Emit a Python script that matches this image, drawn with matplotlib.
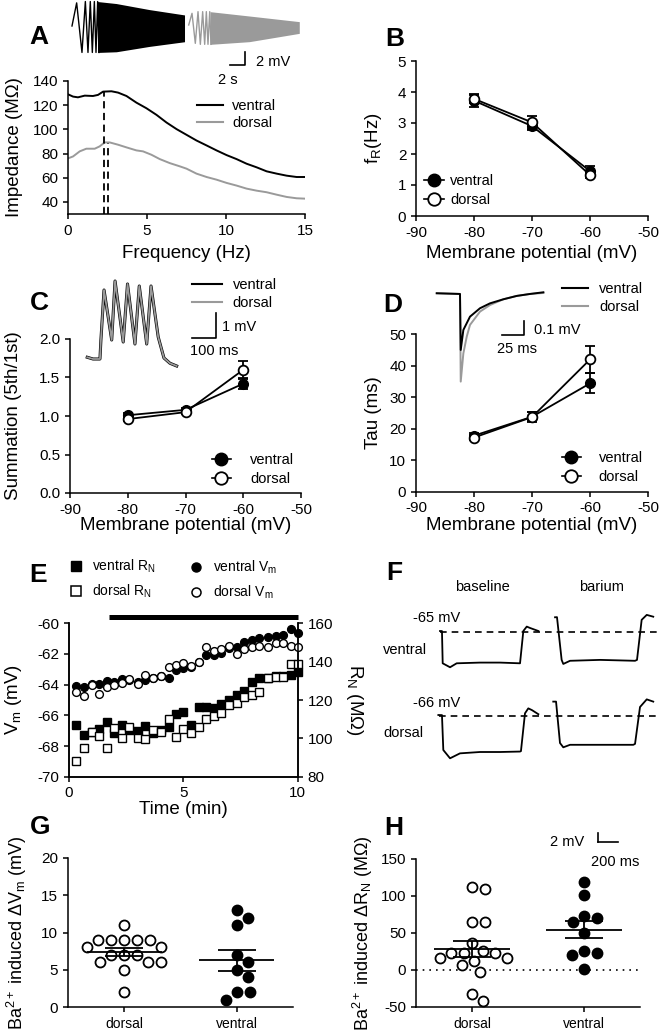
import numpy as np
import matplotlib
matplotlib.use("Agg")
import matplotlib.pyplot as plt
from matplotlib.lines import Line2D

W, H = 659, 1032
GRAY = "#9a9a9a"

# ---------------- data ----------------
# A: impedance profiles
freq_v = [0, 0.32, 0.63, 1.06, 1.58, 1.9, 2.22, 2.75, 3.17, 3.7, 4.33, 4.96, 5.6, 6.23,
          6.87, 7.5, 8.13, 8.77, 9.4, 10.04, 10.67, 11.3, 11.94, 12.57, 13.2, 13.84, 14.47, 15.0]
imp_v = [129.0, 127.1, 126.5, 127.9, 127.6, 128.5, 131.2, 131.5, 130.4, 127.6, 122.1, 117.5,
         112.0, 105.7, 100.2, 95.5, 90.8, 86.7, 82.6, 78.7, 75.4, 71.6, 68.6, 65.3, 63.4,
         61.7, 60.6, 60.6]
freq_d = [0, 0.32, 0.74, 1.16, 1.69, 2.0, 2.32, 2.64, 3.17, 3.7, 4.33, 4.75, 5.28, 5.81,
          6.44, 7.08, 7.5, 8.13, 8.77, 9.4, 10.04, 10.67, 11.3, 11.94, 12.57, 13.2, 13.84,
          14.47, 15.0]
imp_d = [76.0, 77.6, 81.8, 84.0, 84.0, 85.9, 89.2, 89.2, 87.3, 85.1, 82.6, 81.8, 79.0, 75.4,
         72.1, 69.4, 67.5, 63.4, 60.6, 58.4, 55.7, 53.5, 51.0, 49.3, 48.0, 46.0, 44.1, 43.0,
         42.7]
fr_example = [2.25, 2.5]          # resonance frequency, ventral / dorsal
zpeak_example = [130.5, 88.5]

# A inset: chirp responses (s, mV)
chirp_v_t = [0, 0.62, 1.33, 1.78, 2.13, 2.44, 2.71, 2.98, 3.2, 3.42, 3.6]
chirp_v_mv = [0.15, 3.6, -3.8, 3.8, -3.8, 3.8, -3.8, 3.8, -3.8, 3.8, -3.8]
env_v_t = [3.4, 5.9, 10.3, 15.0]
env_v_top = [3.8, 3.5, 2.6, 1.8]
env_v_bot = [-3.8, -3.7, -2.9, -2.2]
chirp_d_t = [15.56, 16.0, 16.44, 16.8, 17.11, 17.42, 17.69, 17.91, 18.13, 18.36, 18.53]
chirp_d_mv = [0.3, 2.04, -2.44, 2.29, -2.59, 2.29, -2.59, 2.29, -2.59, 2.29, -2.59]
env_d_t = [18.4, 23.64, 30.3]
env_d_top = [2.29, 1.64, 0.8]
env_d_bot = [-2.59, -2.19, -0.95]

# B, C, D: holding potentials
vhold = [-80, -70, -60]
fr_v = [3.72, 2.9, 1.45]
fr_v_err = [0.2, 0.13, 0.15]
fr_d = [3.78, 3.02, 1.32]
fr_d_err = [0.12, 0.2, 0.08]
sum_v = [1.01, 1.08, 1.42]
sum_v_err = [0.03, 0.03, 0.07]
sum_d = [0.96, 1.05, 1.60]
sum_d_err = [0.03, 0.03, 0.12]
tau_v = [17.8, 23.8, 34.4]
tau_v_err = [0.8, 1.5, 3.2]
tau_d = [17.2, 23.7, 42.0]
tau_d_err = [0.8, 1.7, 4.3]

# C inset: EPSP train (ms, mV)
epsp_t = [1, 25, 54, 58, 71, 103, 117, 151, 169, 200, 218, 249, 267, 297, 321, 346, 374]
epsp_mv = [0.03, -0.04, -0.04, 0.72, 2.72, 0.72, 3.08, 0.64, 2.96, 0.56, 2.88, 0.56, 2.88,
           0.84, 0.0, -0.21, -0.32]

# D inset: voltage response (ms, mV)
vr_v_t = [0, 25.6, 26.4, 29.3, 36.6, 47.6, 58.6, 73.3, 88, 102.6, 117.3]
vr_v_mv = [0.005, 0, -0.4, -0.257, -0.162, -0.102, -0.067, -0.038, -0.014, 0, 0.012]
vr_d_t = [0, 25.6, 26.4, 29.3, 33.0, 36.6, 47.6, 58.6, 73.3, 88, 102.6, 117.3]
vr_d_mv = [0.005, 0, -0.626, -0.424, -0.305, -0.221, -0.126, -0.079, -0.038, -0.014, 0, 0.007]

# E: time course of barium wash-in
time_min = [0.31, 0.67, 1.01, 1.33, 1.65, 1.98, 2.32, 2.64, 3.0, 3.34, 3.69, 4.02, 4.36,
            4.68, 5.0, 5.34, 5.67, 5.99, 6.33, 6.65, 7.01, 7.35, 7.67, 8.0, 8.32, 8.69,
            9.05, 9.37, 9.71, 10.03]
vm_ventral = [-64.07, -64.13, -63.95, -63.96, -63.74, -63.85, -63.63, -63.70, -63.80, -63.70,
              -63.54, -63.43, -63.54, -63.04, -62.93, -62.83, -62.50, -62.07, -62.07, -61.96,
              -61.63, -61.52, -61.24, -61.09, -60.93, -60.87, -60.80, -60.76, -60.37, -60.65]
vm_dorsal = [-64.50, -64.74, -64.02, -64.59, -64.17, -64.02, -63.91, -63.65, -63.96, -63.37,
             -63.54, -63.43, -62.83, -62.72, -62.61, -62.78, -62.50, -61.57, -61.78, -61.70,
             -61.46, -61.98, -61.65, -61.57, -61.48, -61.57, -61.30, -61.30, -61.46, -61.57]
rn_ventral = [107.0, 101.7, 103.5, 104.7, 108.7, 102.6, 107.0, 104.3, 103.8, 106.4, 102.6,
              104.3, 106.1, 112.5, 113.6, 107.0, 116.5, 116.5, 115.7, 117.7, 120.0, 122.6,
              124.7, 129.6, 131.7, 131.3, 132.5, 132.5, 133.0, 134.8]
rn_dorsal = [88.2, 94.8, 103.1, 101.4, 94.8, 105.2, 100.3, 106.1, 100.0, 99.5, 104.3, 103.5,
             109.9, 100.9, 104.9, 102.6, 106.1, 110.1, 111.8, 113.0, 117.4, 118.3, 121.7,
             122.6, 124.3, 131.3, 132.2, 132.2, 138.8, 138.8]
barium_on = [1.75, 10.0]

# F: example step responses (ms, mV)
fv_base_t = [0, 19, 26, 97, 161, 386, 580, 773, 805, 838, 869, 950]
fv_base_mv = [-64.78, -64.8, -71.96, -72.84, -71.96, -71.8, -71.8, -71.96, -64.78, -63.8,
              -64.1, -64.78]
fv_ba_t = [1111, 1130, 1175, 1191, 1256, 1546, 1884, 1903, 1948, 1997, 2060]
fv_ba_mv = [-61.73, -61.7, -71.2, -72.1, -71.4, -71.2, -71.4, -71.2, -62.3, -61.2, -61.6]
fd_base_t = [-16, 19, 32, 97, 193, 386, 580, 773, 782, 821, 853, 889, 950]
fd_base_mv = [-65.78, -65.8, -73.56, -75.4, -74.3, -74.0, -74.0, -73.9, -73.8, -65.4, -64.3,
              -64.7, -65.6]
fd_ba_t = [1094, 1121, 1159, 1191, 1256, 1546, 1867, 1884, 1932, 1997, 2060]
fd_ba_mv = [-62.8, -62.8, -72.0, -72.96, -72.4, -72.4, -72.4, -72.2, -64.0, -62.3, -62.8]
rest_v, rest_d = -65, -66

# G, H: barium-induced changes
dvm_dorsal = [11, 9, 9, 9, 9, 9, 8, 8, 7, 7, 7, 6, 6, 6, 5, 2]
dvm_ventral = [13, 12, 11, 7, 6, 5, 4, 2, 2, 1]
drn_dorsal = [111.3, 108.6, 64.2, 64.2, 35.8, 25.8, 23.3, 22.4, 22.4, 15.6, 15.6, 12.5, 6.6,
              -2.4, -32.5, -41.9]
drn_ventral = [119.0, 101.0, 73.1, 69.6, 64.2, 49.3, 25.5, 22.4, 20.1, 0.8]
groups = ["dorsal", "ventral"]

# ---------------- style ----------------
plt.rcParams["font.family"] = ["Liberation Sans", "DejaVu Sans"]
plt.rcParams["mathtext.fontset"] = "custom"
plt.rcParams["mathtext.rm"] = "Liberation Sans"
plt.rcParams["mathtext.it"] = "Liberation Sans:italic"
plt.rcParams["mathtext.bf"] = "Liberation Sans:bold"
plt.rcParams["axes.unicode_minus"] = False
plt.rcParams["axes.linewidth"] = 1.1
for a in ("xtick", "ytick"):
    plt.rcParams[a + ".major.width"] = 1.1
    plt.rcParams[a + ".major.size"] = 3.5
    plt.rcParams[a + ".direction"] = "out"
    plt.rcParams[a + ".labelsize"] = 11
LAB = 13.5
LEG = 10.5

fig = plt.figure(figsize=(W / 100, H / 100), dpi=100)


def box(x0, y0, x1, y1):
    return [x0 / W, 1 - y1 / H, (x1 - x0) / W, (y1 - y0) / H]


def fpt(x, y):
    return x / W, 1 - y / H


def ftext(x, y, s, **kw):
    kw.setdefault("fontsize", LEG)
    kw.setdefault("va", "center")
    fig.text(*fpt(x, y), s, **kw)


def panel(ax):
    ax.spines["top"].set_visible(False)
    ax.spines["right"].set_visible(False)


def labels(ax, ext, xl, xl_y, yl, yl_x):
    x0, y0, x1, y1 = ext
    ax.set_xlabel(xl, fontsize=LAB, va="center")
    ax.xaxis.set_label_coords(0.5, (y1 - xl_y) / (y1 - y0))
    ax.set_ylabel(yl, fontsize=LAB, va="center", ha="center")
    ax.yaxis.set_label_coords((yl_x - x0) / (x1 - x0), 0.5)


def trace_ax(ext, xlim, ylim):
    ax = fig.add_axes(box(*ext))
    ax.set_xlim(*xlim)
    ax.set_ylim(*ylim)
    ax.axis("off")
    return ax


def legend_at(ax, handles, labs, x, y, **kw):
    opts = dict(loc="center left", bbox_to_anchor=fpt(x, y), bbox_transform=fig.transFigure,
                frameon=False, fontsize=LEG, borderpad=0, borderaxespad=0)
    opts.update(kw)
    return ax.legend(handles, labs, **opts)


def swarm_x(values, ppu_x, ppu_y, d_px):
    placed, offs = [], []
    cands = [0.0] + [s * k * 0.5 for k in range(1, 300) for s in (1, -1)]
    for v in values:
        y = v * ppu_y
        for c in cands:
            if all(np.hypot(c - px, y - py) >= d_px for px, py in placed):
                break
        placed.append((c, y))
        offs.append(c / ppu_x)
    return np.array(offs)


h_line_v = Line2D([], [], color="k", lw=1.5)
h_line_d = Line2D([], [], color=GRAY, lw=1.5)
h_dot_v = Line2D([], [], color="k", lw=1.2, marker="o", ms=9, mfc="k", mec="k")
h_dot_d = Line2D([], [], color="k", lw=1.2, marker="o", ms=9, mfc="white", mec="k", mew=1.3)

# ---------------- A ----------------
extA = (68, 81, 305, 214)
axA = fig.add_axes(box(*extA))
panel(axA)
axA.plot(freq_v, imp_v, color="k", lw=1.4)
axA.plot(freq_d, imp_d, color=GRAY, lw=1.4)
axA.vlines(fr_example, 30, zpeak_example, colors="k", lw=1.3, linestyles=(0, (4, 2.5)))
axA.set_xlim(0, 15)
axA.set_ylim(30, 140)
axA.set_xticks([0, 5, 10, 15])
axA.set_yticks(range(40, 141, 20))
labels(axA, extA, "Frequency (Hz)", 253, "Impedance (M\u03a9)", 15)
legend_at(axA, [h_line_v, h_line_d], ["ventral", "dorsal"], 197, 114.5,
          handlelength=1.8, handletextpad=0.6, labelspacing=0.25)

axCh = trace_ax((60, 0, 310, 70), (-1.6, 31.73), (-6.42, 4.03))
axCh.plot(chirp_v_t, chirp_v_mv, color="k", lw=1.0)
axCh.fill_between(env_v_t, env_v_top, env_v_bot, color="k", lw=0)
axCh.plot(chirp_d_t, chirp_d_mv, color=GRAY, lw=1.0)
axCh.fill_between(env_d_t, env_d_top, env_d_bot, color=GRAY, lw=0)
axCh.plot([21.07, 23.07, 23.07], [-5.67, -5.67, -3.67], color="k", lw=1.2)
ftext(256, 61.5, "2 mV")
ftext(228, 80, "2 s", ha="center")

# ---------------- B ----------------
extB = (416, 61, 648, 216)
axB = fig.add_axes(box(*extB))
panel(axB)
eb = dict(fmt="-o", color="k", mec="k", ms=7, lw=1.3, capsize=3.5, elinewidth=1.3,
          capthick=1.3, clip_on=False)
axB.errorbar(vhold, fr_v, yerr=fr_v_err, mfc="k", zorder=2, **eb)
axB.errorbar(vhold, fr_d, yerr=fr_d_err, mfc="white", mew=1.3, zorder=3, **eb)
axB.set_xlim(-90, -50)
axB.set_ylim(0, 5)
axB.set_xticks(range(-90, -49, 10))
labels(axB, extB, "Membrane potential (mV)", 253, r"f$_\mathrm{R}$(Hz)", 373)
legend_at(axB, [h_dot_v, h_dot_d], ["ventral", "dorsal"], 424, 190.5,
          handlelength=1.4, handletextpad=0.4, labelspacing=0.35)

# ---------------- C ----------------
extC = (70, 339, 301, 493)
axC = fig.add_axes(box(*extC))
panel(axC)
axC.errorbar(vhold, sum_v, yerr=sum_v_err, mfc="k", zorder=2, **eb)
axC.errorbar(vhold, sum_d, yerr=sum_d_err, mfc="white", mew=1.3, zorder=3, **eb)
axC.set_xlim(-90, -50)
axC.set_ylim(0, 2.0)
axC.set_xticks(range(-90, -49, 10))
axC.set_yticks(np.arange(0, 2.01, 0.5))
axC.yaxis.set_major_formatter("{x:.1f}")
labels(axC, extC, "Membrane potential (mV)", 525, "Summation (5th/1st)", 14)
legend_at(axC, [h_dot_v, h_dot_d], ["ventral", "dorsal"], 212, 469.5,
          handlelength=1.3, handletextpad=1.3, labelspacing=0.35)

axCi = trace_ax((80, 272, 245, 372), (-29.2, 659), (-0.56, 3.44))
axCi.plot(epsp_t, epsp_mv, color="k", lw=2.2)
axCi.plot(epsp_t, epsp_mv, color=GRAY, lw=1.3)
axCi.plot([438, 538, 538], [0.8, 0.8, 1.8], color="k", lw=1.2)
ftext(222, 327, "1 mV")
ftext(190, 351, "100 ms")
axCi.legend([h_line_v, h_line_d], ["ventral", "dorsal"], loc="center left",
            bbox_to_anchor=fpt(192, 294), bbox_transform=fig.transFigure, frameon=False,
            fontsize=LEG, borderpad=0, borderaxespad=0, handlelength=2.05,
            handletextpad=0.75, labelspacing=0.25)

# ---------------- D ----------------
extD = (416, 334.3, 648, 491.7)
axD = fig.add_axes(box(*extD))
panel(axD)
axD.errorbar(vhold, tau_v, yerr=tau_v_err, mfc="k", zorder=2, **eb)
axD.errorbar(vhold, tau_d, yerr=tau_d_err, mfc="white", mew=1.3, zorder=3, **eb)
axD.set_xlim(-90, -50)
axD.set_ylim(0, 50)
axD.set_xticks(range(-90, -49, 10))
labels(axD, extD, "Membrane potential (mV)", 525, "Tau (ms)", 373)
legend_at(axD, [h_dot_v, h_dot_d], ["ventral", "dorsal"], 562, 467.5,
          handlelength=1.3, handletextpad=1.2, labelspacing=0.35)

axDi = trace_ax((430, 285, 560, 390), (-7.4, 135.6), (-0.686, 0.064))
axDi.plot(vr_d_t, vr_d_mv, color=GRAY, lw=1.4)
axDi.plot(vr_v_t, vr_v_mv, color="k", lw=1.4)
axDi.plot([71.5, 96.4, 96.4], [-0.293, -0.293, -0.193], color="k", lw=1.2)
ftext(534, 330, "0.1 mV")
ftext(497, 349, "25 ms")
axDi.legend([h_line_v, h_line_d], ["ventral", "dorsal"], loc="center left",
            bbox_to_anchor=fpt(561.7, 298), bbox_transform=fig.transFigure, frameon=False,
            fontsize=LEG, borderpad=0, borderaxespad=0, handlelength=1.82,
            handletextpad=0.73, labelspacing=0.25)

# ---------------- E ----------------
extE = (69, 623.3, 297.7, 776.7)
axE = fig.add_axes(box(*extE))
axE.spines["top"].set_visible(False)
axE2 = axE.twinx()
axE2.spines["top"].set_visible(False)
axE2.plot(time_min, rn_ventral, "s", ms=5.6, mfc="k", mec="k", clip_on=False)
axE2.plot(time_min, rn_dorsal, "s", ms=5.6, mfc="white", mec="k", mew=1.0, clip_on=False)
axE.plot(time_min, vm_ventral, "o", ms=5.6, mfc="k", mec="k", clip_on=False)
axE.plot(time_min, vm_dorsal, "o", ms=5.6, mfc="white", mec="k", mew=1.0, clip_on=False)
axE.set_zorder(axE2.get_zorder() + 1)
axE.patch.set_visible(False)
axE.plot(barium_on, [1.043, 1.043], color="k", lw=3.6, solid_capstyle="butt",
         transform=axE.get_xaxis_transform(), clip_on=False)
axE.set_xlim(0, 10)
axE.set_ylim(-70, -60)
axE.set_xticks([0, 5, 10])
axE.set_yticks(range(-70, -59, 2))
axE2.set_ylim(80, 160)
axE2.set_yticks(range(80, 161, 20))
labels(axE, extE, "Time (min)", 809, r"V$_\mathrm{m}$ (mV)", 13)
axE2.set_ylabel(r"R$_\mathrm{N}$ (M$\Omega$)", fontsize=LAB, rotation=270, va="center",
                ha="center")
axE2.yaxis.set_label_coords((355 - 69) / (297.7 - 69), 0.5)
sq_v = Line2D([], [], ls="none", marker="s", ms=7, mfc="k", mec="k")
sq_d = Line2D([], [], ls="none", marker="s", ms=7, mfc="white", mec="k", mew=1.1)
ci_v = Line2D([], [], ls="none", marker="o", ms=6.5, mfc="k", mec="k")
ci_d = Line2D([], [], ls="none", marker="o", ms=6.5, mfc="white", mec="k", mew=1.1)
fig.legend([sq_v, sq_d], [r"ventral R$_\mathrm{N}$", r"dorsal R$_\mathrm{N}$"],
           loc="center left", bbox_to_anchor=fpt(70, 579), frameon=False, fontsize=10,
           borderpad=0, borderaxespad=0, handlelength=0.85, handletextpad=0.75,
           labelspacing=0.55)
fig.legend([ci_v, ci_d], [r"ventral V$_\mathrm{m}$", r"dorsal V$_\mathrm{m}$"],
           loc="center left", bbox_to_anchor=fpt(190.5, 580), frameon=False,
           fontsize=10, borderpad=0, borderaxespad=0, handlelength=0.85,
           handletextpad=0.75, labelspacing=0.55)

# ---------------- F ----------------
axFv = trace_ax((430, 605, 659, 680), (-96.6, 2115.5), (-75.67, -59.0))
axFv.plot(fv_base_t, fv_base_mv, color="k", lw=1.3)
axFv.plot(fv_ba_t, fv_ba_mv, color="k", lw=1.3)
axFv.axhline(rest_v, xmin=0.045, xmax=1.0, color="k", lw=1.2, ls=(0, (4, 3)))
axFd = trace_ax((430, 690, 659, 850), (-96.6, 2115.5), (-95.78, -60.22))
axFd.plot(fd_base_t, fd_base_mv, color="k", lw=1.3)
axFd.plot(fd_ba_t, fd_ba_mv, color="k", lw=1.3)
axFd.axhline(rest_d, xmin=0.038, xmax=1.0, color="k", lw=1.2, ls=(0, (4, 3)))
axFd.plot([1523, 1723], [-94.07, -94.07], color="k", lw=1.2)
axFd.plot([1523, 1523], [-94.07, -92.07], color="k", lw=1.2)
ftext(482.7, 587, "baseline", ha="center")
ftext(601.7, 587, "barium", ha="center")
ftext(412.7, 617.5, "-65 mV")
ftext(383, 650, "ventral")
ftext(412.7, 703, "-66 mV")
ftext(383, 733, "dorsal")
ftext(584, 841.5, "2 mV", ha="right")
ftext(615, 862, "200 ms", ha="center")


# ---------------- G, H ----------------
def scatter_panel(ext, d_vals, v_vals, ylim, yticks, ylab, ylab_x, ms=7.2, d_px=12.5):
    x0, y0, x1, y1 = ext
    ax = fig.add_axes(box(*ext))
    panel(ax)
    ax.set_xlim(-0.5, 1.5)
    ax.set_ylim(*ylim)
    ppu_x = (x1 - x0) / 2.0
    ppu_y = (y1 - y0) / (ylim[1] - ylim[0])
    for i, (vals, fc) in enumerate([(d_vals, "white"), (v_vals, "k")]):
        vals = np.asarray(vals, float)
        xs = i + swarm_x(vals, ppu_x, ppu_y, d_px)
        ax.plot(xs, vals, "o", ms=ms, mfc=fc, mec="k", mew=1.3, ls="none", zorder=2)
        m = vals.mean()
        s = vals.std(ddof=1) / np.sqrt(len(vals))
        ax.hlines(m, i - 0.335, i + 0.335, color="k", lw=1.3, zorder=3)
        ax.hlines([m - s, m + s], i - 0.17, i + 0.17, color="k", lw=1.3, zorder=3)
        ax.vlines(i, m - s, m + s, color="k", lw=1.3, zorder=3)
    ax.set_xticks([0, 1])
    ax.set_xticklabels(groups, fontsize=10)
    ax.set_yticks(yticks)
    ax.set_ylabel(ylab, fontsize=13, va="center", ha="center")
    ax.yaxis.set_label_coords((ylab_x - x0) / (x1 - x0), 0.5)
    return ax


scatter_panel((68, 857.7, 293, 1007.3), dvm_dorsal, dvm_ventral, (0, 20), range(0, 21, 5),
              "Ba$^{2+}$ induced \u0394V$_\mathrm{m}$ (mV)", 17, d_px=13)
axH = scatter_panel((416, 858.7, 640, 1007), drn_dorsal, drn_ventral, (-50, 150),
                    range(-50, 151, 50), "Ba$^{2+}$ induced \u0394R$_\mathrm{N}$ (M\u03a9)", 363)
axH.axhline(0, color="k", lw=1.2, ls=(0, (1, 3)), zorder=1)

# ---------------- panel letters ----------------
for s, x, y in [("A", 38.5, 37.5), ("B", 394.5, 38.5), ("C", 39.7, 302.5), ("D", 392.5, 305.5),
                ("E", 38, 575), ("F", 394, 573), ("G", 40, 827.5), ("H", 394, 828.3)]:
    ftext(x, y, s, fontsize=19, fontweight="bold", ha="center")

fig.savefig("out.png", dpi=100)
